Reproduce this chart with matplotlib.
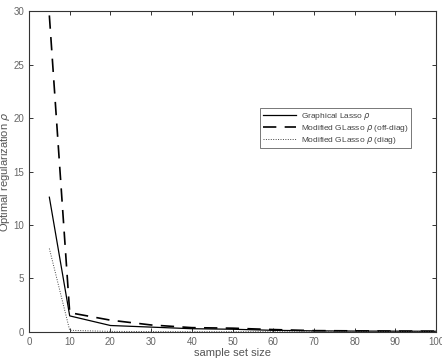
import matplotlib
matplotlib.use("Agg")
import matplotlib.pyplot as plt

plt.rcParams['font.family'] = ['Liberation Sans', 'DejaVu Sans']
plt.rcParams['mathtext.fontset'] = 'dejavusans'

sample_sizes = [5, 10, 20, 30, 40, 50, 60, 70, 80, 90, 100]
glasso = [12.6, 1.5, 0.6, 0.45, 0.3, 0.25, 0.15, 0.1, 0.08, 0.07, 0.06]
mod_offdiag = [29.6, 1.8, 1.1, 0.65, 0.4, 0.35, 0.22, 0.12, 0.1, 0.08, 0.07]
mod_diag = [7.8, 0.15, 0.05, 0.03, 0.02, 0.02, 0.02, 0.02, 0.02, 0.02, 0.02]

xticks = [0, 10, 20, 30, 40, 50, 60, 70, 80, 90, 100]
yticks = [0, 5, 10, 15, 20, 25, 30]

fig = plt.figure(figsize=(4.42, 3.6), dpi=100)
ax = fig.add_axes([0.0656, 0.078, 0.921, 0.891])

ax.plot(sample_sizes, glasso, color='black', lw=0.9, linestyle='-',
        label=r'Graphical Lasso $\rho$')
ax.plot(sample_sizes, mod_offdiag, color='black', lw=1.2, linestyle=(0, (8, 5)),
        label=r'Modified GLasso $\rho$ (off-diag)')
ax.plot(sample_sizes, mod_diag, color='#444444', lw=0.7, linestyle=(0, (1, 1.5)),
        label=r'Modified GLasso $\rho$ (diag)')

ax.set_xlim(0, 100)
ax.set_ylim(0, 30)
ax.set_xticks(xticks)
ax.set_yticks(yticks)
ax.tick_params(direction='in', top=True, right=True, labelsize=7, colors='#333333',
               labelcolor='#666666', length=3, width=0.7)
for s in ax.spines.values():
    s.set_color('#333333')
    s.set_linewidth(0.8)

ax.set_xlabel('sample set size', fontsize=8, color='#555555', labelpad=1)
ax.set_ylabel(r'Optimal regularization $\rho$', fontsize=8, color='#555555', labelpad=1)

leg = ax.legend(loc='upper left', bbox_to_anchor=(0.568, 0.697), fontsize=6,
                frameon=True, fancybox=False, edgecolor='#555555',
                handlelength=4.0, handletextpad=0.6, borderpad=0.3,
                labelspacing=0.1, markerfirst=True, borderaxespad=0)
leg.get_frame().set_linewidth(0.7)
for t in leg.get_texts():
    t.set_color('#444444')

fig.savefig('out.png', dpi=100, facecolor='white')
